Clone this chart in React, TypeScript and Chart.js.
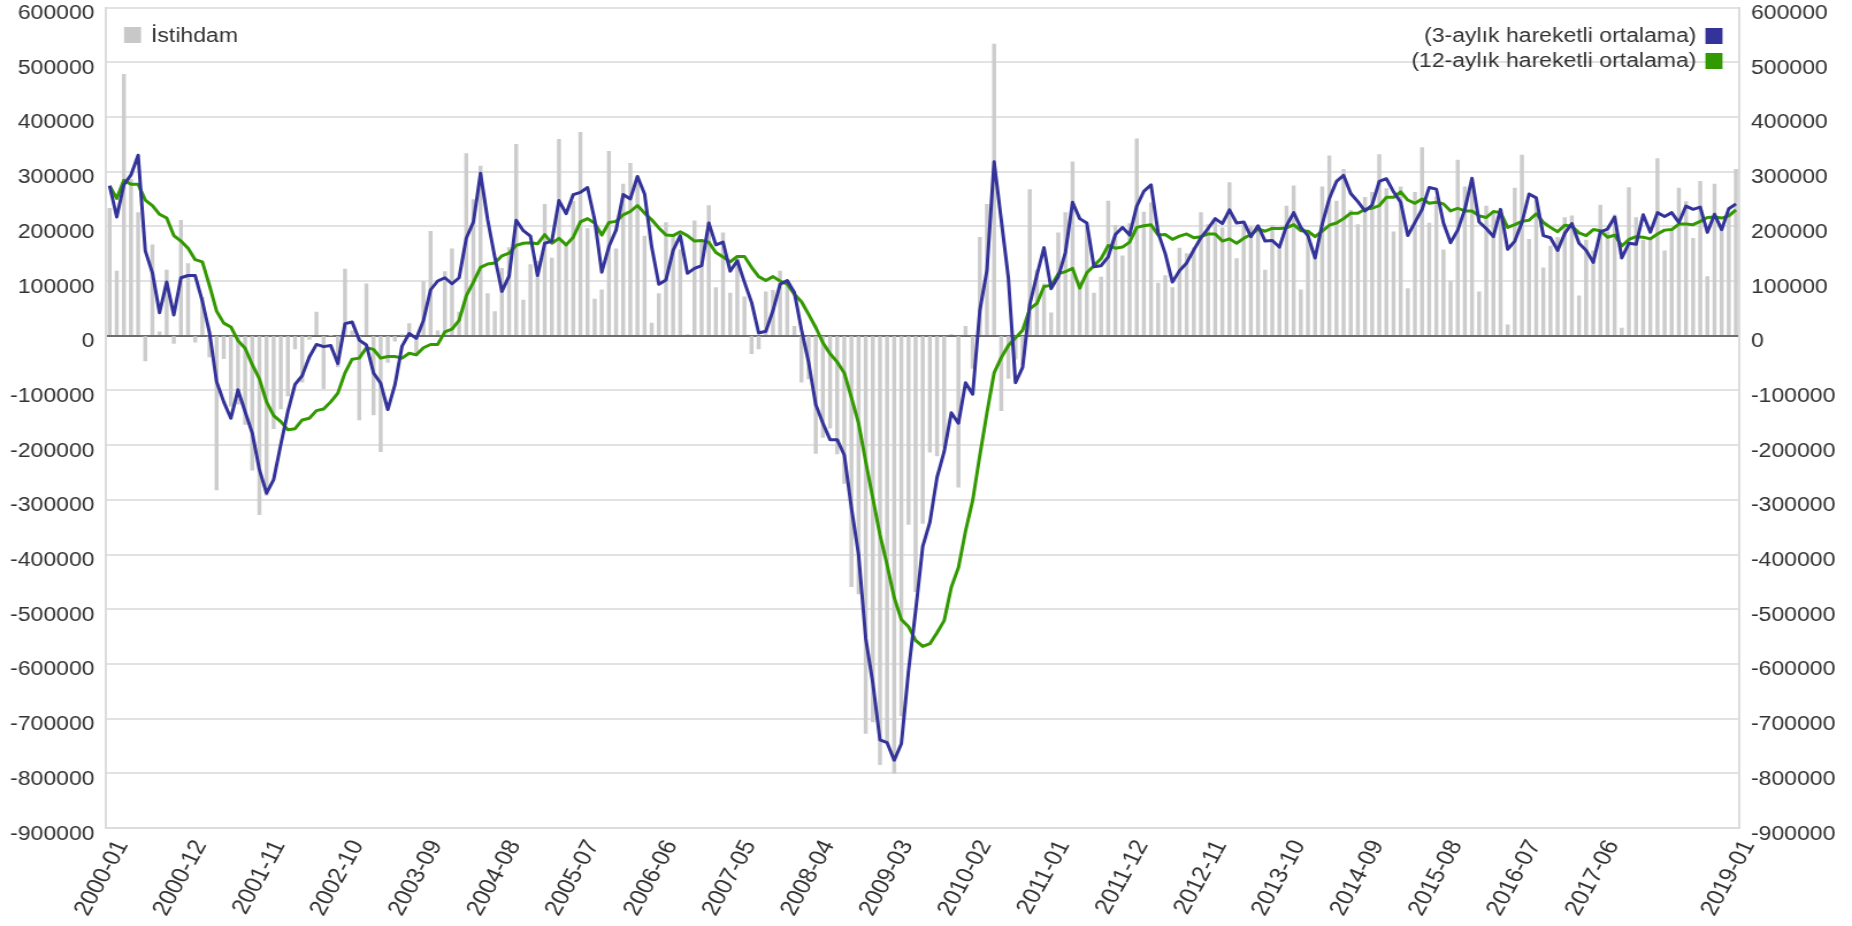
import React, { useEffect, useRef } from "react";
import { Chart, registerables } from "chart.js";

Chart.register(...registerables);

const categories = [
  "2000-01","2000-02","2000-03","2000-04","2000-05","2000-06","2000-07","2000-08","2000-09","2000-10","2000-11","2000-12",
  "2001-01","2001-02","2001-03","2001-04","2001-05","2001-06","2001-07","2001-08","2001-09","2001-10","2001-11","2001-12",
  "2002-01","2002-02","2002-03","2002-04","2002-05","2002-06","2002-07","2002-08","2002-09","2002-10","2002-11","2002-12",
  "2003-01","2003-02","2003-03","2003-04","2003-05","2003-06","2003-07","2003-08","2003-09","2003-10","2003-11","2003-12",
  "2004-01","2004-02","2004-03","2004-04","2004-05","2004-06","2004-07","2004-08","2004-09","2004-10","2004-11","2004-12",
  "2005-01","2005-02","2005-03","2005-04","2005-05","2005-06","2005-07","2005-08","2005-09","2005-10","2005-11","2005-12",
  "2006-01","2006-02","2006-03","2006-04","2006-05","2006-06","2006-07","2006-08","2006-09","2006-10","2006-11","2006-12",
  "2007-01","2007-02","2007-03","2007-04","2007-05","2007-06","2007-07","2007-08","2007-09","2007-10","2007-11","2007-12",
  "2008-01","2008-02","2008-03","2008-04","2008-05","2008-06","2008-07","2008-08","2008-09","2008-10","2008-11","2008-12",
  "2009-01","2009-02","2009-03","2009-04","2009-05","2009-06","2009-07","2009-08","2009-09","2009-10","2009-11","2009-12",
  "2010-01","2010-02","2010-03","2010-04","2010-05","2010-06","2010-07","2010-08","2010-09","2010-10","2010-11","2010-12",
  "2011-01","2011-02","2011-03","2011-04","2011-05","2011-06","2011-07","2011-08","2011-09","2011-10","2011-11","2011-12",
  "2012-01","2012-02","2012-03","2012-04","2012-05","2012-06","2012-07","2012-08","2012-09","2012-10","2012-11","2012-12",
  "2013-01","2013-02","2013-03","2013-04","2013-05","2013-06","2013-07","2013-08","2013-09","2013-10","2013-11","2013-12",
  "2014-01","2014-02","2014-03","2014-04","2014-05","2014-06","2014-07","2014-08","2014-09","2014-10","2014-11","2014-12",
  "2015-01","2015-02","2015-03","2015-04","2015-05","2015-06","2015-07","2015-08","2015-09","2015-10","2015-11","2015-12",
  "2016-01","2016-02","2016-03","2016-04","2016-05","2016-06","2016-07","2016-08","2016-09","2016-10","2016-11","2016-12",
  "2017-01","2017-02","2017-03","2017-04","2017-05","2017-06","2017-07","2017-08","2017-09","2017-10","2017-11","2017-12",
  "2018-01","2018-02","2018-03","2018-04","2018-05","2018-06","2018-07","2018-08","2018-09","2018-10","2018-11","2018-12",
  "2019-01"
];

// monthly employment change, thousands
const employmentK = [
  233, 118, 478, 286, 225, -46, 166, 7, 120, -14, 211, 132,
  -12, 70, -39, -282, -42, -129, -125, -162, -246, -327, -292, -170,
  -134, -110, -24, -85, -7, 43, -97, 0, -57, 122, 9, -154,
  95, -145, -212, -49, -10, 1, 22, -37, 99, 191, 9, 117,
  159, 43, 333, 249, 310, 77, 44, 123, 161, 350, 65, 130,
  136, 240, 142, 359, 169, 246, 372, 196, 67, 84, 337, 159,
  277, 315, 280, 182, 23, 77, 207, 184, 157, 2, 210, 171,
  238, 88, 188, 78, 144, 71, -33, -24, 80, 83, 118, 101,
  17, -85, -79, -215, -186, -169, -216, -270, -459, -472, -727, -706,
  -784, -743, -800, -695, -345, -468, -343, -213, -220, -204, 2, -277,
  17, -60, 180, 240, 533, -137, -78, -43, -53, 267, 120, 95,
  42, 188, 225, 318, 99, 200, 78, 107, 246, 202, 146, 205,
  360, 226, 243, 96, 110, 88, 160, 150, 161, 225, 203, 214,
  197, 280, 141, 203, 199, 201, 120, 202, 164, 237, 274, 84,
  190, 151, 272, 329, 246, 304, 229, 203, 253, 262, 331, 269,
  190, 272, 86, 262, 344, 206, 254, 157, 100, 321, 272, 271,
  80, 237, 225, 230, 20, 270, 330, 176, 249, 124, 164, 180,
  216, 219, 73, 175, 155, 239, 190, 221, 14, 271, 216, 175,
  176, 324, 155, 196, 270, 245, 178, 282, 108, 277, 196, 222,
  304
];

// 3-month moving average, thousands
const ma3K = [
  274, 217, 276, 294, 330, 155, 115, 42, 98, 38, 106, 110,
  110, 63, 6, -84, -121, -151, -99, -139, -178, -245, -288, -263,
  -199, -138, -89, -73, -39, -16, -20, -18, -51, 22, 25, -8,
  -17, -68, -87, -135, -90, -19, 4, -5, 28, 84, 100, 106,
  95, 106, 178, 208, 297, 212, 144, 81, 109, 211, 192, 182,
  110, 169, 173, 247, 223, 258, 262, 271, 212, 116, 163, 193,
  258, 250, 291, 259, 162, 94, 102, 156, 183, 114, 123, 128,
  206, 166, 171, 118, 137, 98, 61, 5, 8, 46, 94, 101,
  79, 11, -49, -126, -160, -190, -190, -218, -315, -400, -553, -635,
  -739, -744, -776, -746, -613, -503, -385, -341, -259, -212, -141, -160,
  -86, -107, 46, 120, 318, 212, 106, -86, -58, 57, 111, 161,
  86, 108, 152, 244, 214, 206, 126, 128, 144, 185, 198, 184,
  237, 264, 276, 188, 150, 98, 119, 133, 157, 179, 196, 214,
  205, 230, 206, 208, 181, 201, 173, 174, 162, 201, 225, 198,
  183, 142, 204, 251, 282, 293, 260, 245, 228, 239, 282, 287,
  263, 244, 183, 207, 231, 271, 268, 206, 170, 193, 231, 288,
  208, 196, 181, 231, 158, 173, 207, 259, 252, 183, 179, 156,
  187, 205, 169, 156, 134, 190, 195, 217, 142, 169, 167, 221,
  189, 225, 218, 225, 207, 237, 231, 235, 189, 222, 194, 232,
  241
];

// 12-month moving average, thousands
const ma12K = [
  274, 251, 284, 277, 277, 248, 238, 222, 215, 183, 173, 160,
  139, 135, 92, 45, 23, 16, -9, -23, -53, -79, -121, -146,
  -157, -172, -170, -154, -151, -137, -134, -121, -105, -68, -43, -41,
  -22, -25, -41, -38, -38, -41, -32, -35, -22, -16, -16, 7,
  12, 28, 73, 98, 125, 131, 133, 146, 151, 165, 169, 170,
  168, 185, 169, 178, 166, 180, 208, 214, 206, 184, 207, 209,
  221, 227, 238, 224, 212, 197, 184, 183, 190, 183, 173, 174,
  171, 152, 144, 135, 145, 145, 125, 108, 101, 108, 100, 94,
  76, 62, 39, 15, -13, -33, -48, -68, -113, -160, -230, -297,
  -364, -419, -479, -519, -532, -557, -568, -563, -543, -521, -460, -424,
  -357, -301, -219, -141, -68, -40, -18, -4, 10, 49, 59, 90,
  92, 113, 117, 123, 87, 115, 128, 141, 165, 160, 162, 171,
  198, 201, 203, 184, 185, 176, 182, 186, 179, 181, 186, 186,
  173, 177, 169, 178, 185, 195, 191, 196, 196, 197, 203, 192,
  191, 181, 191, 202, 206, 214, 224, 224, 231, 233, 238, 253,
  253, 263, 248, 242, 250, 242, 244, 241, 228, 233, 228, 228,
  219, 216, 227, 225, 198, 203, 209, 211, 223, 207, 198, 190,
  202, 200, 188, 183, 194, 192, 180, 184, 164, 176, 181, 180,
  177, 186, 193, 194, 204, 204, 203, 209, 216, 217, 215, 219,
  230
];

const shownTickLabels = [
  "2000-01","2000-12","2001-11","2002-10","2003-09","2004-08","2005-07","2006-06","2007-05","2008-04",
  "2009-03","2010-02","2011-01","2011-12","2012-11","2013-10","2014-09","2015-08","2016-07","2017-06","2019-01"
];

const barLegend = "İstihdam";
const ma3Legend = "(3-aylık hareketli ortalama)";
const ma12Legend = "(12-aylık hareketli ortalama)";

const FULL_W = 1852;
const FULL_H = 926;
const SX = 1.15; // horizontal stretch of the picture
const CW = Math.round(FULL_W / SX);

const BAR_COLOR = "#cccccc";
const MA3_COLOR = "#333399";
const MA12_COLOR = "#339900";
const TEXT_COLOR = "#333333";
const FONT_FAMILY = "'Liberation Sans', Arial, Helvetica, sans-serif";

const legendPlugin = {
  id: "customLegend",
  afterDraw(chart: any) {
    const ctx = chart.ctx;
    ctx.save();
    ctx.font = `20px ${FONT_FAMILY}`;
    ctx.textBaseline = "middle";
    // bar legend (top-left)
    ctx.fillStyle = "#c8c8c8";
    ctx.fillRect(124 / SX, 27, 17 / SX, 16);
    ctx.fillStyle = TEXT_COLOR;
    ctx.textAlign = "left";
    ctx.fillText(barLegend, 151 / SX, 36);
    // line legends (top-right)
    ctx.fillStyle = MA3_COLOR;
    ctx.fillRect(1705 / SX, 28, 17 / SX, 16);
    ctx.fillStyle = MA12_COLOR;
    ctx.fillRect(1705 / SX, 53, 17 / SX, 16);
    ctx.fillStyle = TEXT_COLOR;
    ctx.textAlign = "right";
    ctx.fillText(ma3Legend, 1696 / SX, 36);
    ctx.fillText(ma12Legend, 1696 / SX, 61);
    ctx.restore();
  },
};

export default function App() {
  const canvasRef = useRef<HTMLCanvasElement | null>(null);

  useEffect(() => {
    const canvas = canvasRef.current;
    if (!canvas) return;
    const tickFont = { family: FONT_FAMILY, size: 20 };
    const yTicks = {
      stepSize: 100000,
      color: TEXT_COLOR,
      font: tickFont,
      padding: 10,
      labelOffset: 6,
      callback: (v: any) => String(v),
    };
    const noVPad = (s: any) => {
      s.paddingTop = 0;
      s.paddingBottom = 0;
    };
    const chart = new Chart(canvas, {
      type: "bar",
      data: {
        labels: categories,
        datasets: [
          {
            type: "line",
            label: ma3Legend,
            data: ma3K.map((v) => v * 1000),
            borderColor: MA3_COLOR,
            backgroundColor: MA3_COLOR,
            borderWidth: 3,
            pointRadius: 0,
            tension: 0,
            borderJoinStyle: "round",
            order: 1,
            yAxisID: "y",
          },
          {
            type: "line",
            label: ma12Legend,
            data: ma12K.map((v) => v * 1000),
            borderColor: MA12_COLOR,
            backgroundColor: MA12_COLOR,
            borderWidth: 3,
            pointRadius: 0,
            tension: 0,
            borderJoinStyle: "round",
            order: 2,
            yAxisID: "y",
          },
          {
            type: "bar",
            label: barLegend,
            data: employmentK.map((v) => v * 1000),
            backgroundColor: BAR_COLOR,
            barThickness: 2.8,
            order: 3,
            yAxisID: "y",
          },
        ],
      } as any,
      options: {
        responsive: false,
        animation: false,
        devicePixelRatio: 1,
        layout: { padding: { top: 7.5, left: 0, right: 0, bottom: 0 } },
        plugins: {
          legend: { display: false },
          tooltip: { enabled: false },
        },
        scales: {
          x: {
            grid: { display: false, drawTicks: false },
            border: { display: true, color: "#dcdcdc", width: 2 },
            ticks: {
              autoSkip: false,
              minRotation: 64,
              maxRotation: 64,
              padding: 8,
              labelOffset: 11,
              color: TEXT_COLOR,
              font: { family: FONT_FAMILY, size: 22 },
              callback: (_v: any, idx: number) =>
                shownTickLabels.includes(categories[idx]) ? categories[idx] : "",
            },
            afterFit: (s: any) => {
              s.height = FULL_H - 828;
              s.paddingLeft = 0;
              s.paddingRight = 0;
            },
          },
          y: {
            position: "left",
            min: -900000,
            max: 600000,
            ticks: yTicks,
            grid: {
              drawTicks: false,
              lineWidth: 2,
              color: (c: any) => (c.tick && c.tick.value === 0 ? "#6e6e6e" : "#e2e2e2"),
            },
            border: { display: true, color: "#dcdcdc", width: 2 },
            afterFit: (s: any) => {
              s.width = 106 / SX;
              noVPad(s);
            },
          },
          y2: {
            position: "right",
            min: -900000,
            max: 600000,
            ticks: yTicks,
            grid: { drawOnChartArea: false, drawTicks: false },
            border: { display: true, color: "#dcdcdc", width: 2 },
            afterFit: (s: any) => {
              s.width = CW - 1739 / SX;
              noVPad(s);
            },
          },
        },
      } as any,
      plugins: [legendPlugin],
    });
    return () => chart.destroy();
  }, []);

  return (
    <div style={{ position: "absolute", left: 0, top: 0, width: FULL_W, height: FULL_H, background: "#fff" }}>
      <canvas
        ref={canvasRef}
        width={CW}
        height={FULL_H}
        style={{ width: `${FULL_W}px`, height: `${FULL_H}px`, display: "block" }}
      />
    </div>
  );
}
